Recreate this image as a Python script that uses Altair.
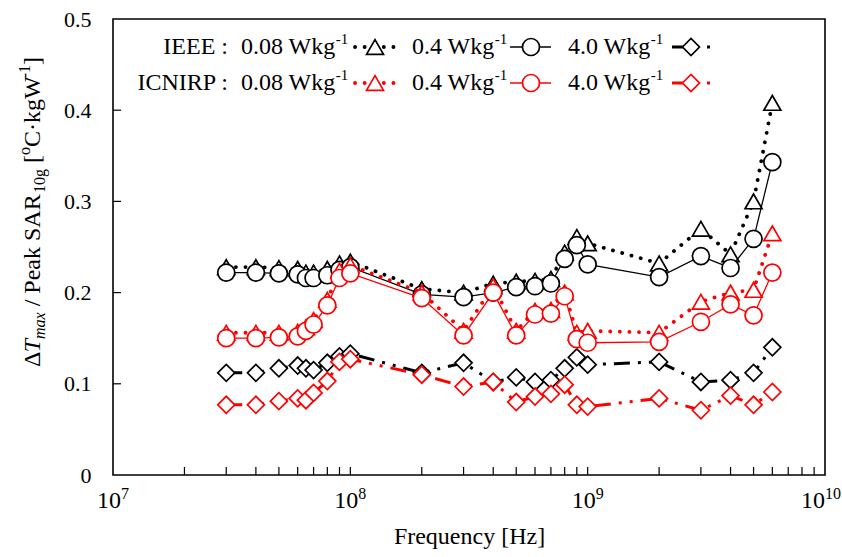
import altair as alt
import pandas as pd

# ---------------- data ----------------
freq_mhz = [30, 40, 50, 60, 65, 70, 80, 90, 100, 200, 300, 400, 500, 600, 700,
            800, 900, 1000, 2000, 3000, 4000, 5000, 6000]

ieee_008 = [.228, .228, .227, .226, .222, .222, .226, .232, .234, .204, .200, .210, .212,
            .213, .215, .244, .261, .254, .232, .270, .242, .300, .408]
ieee_04 = [.222, .222, .221, .220, .216, .216, .219, .225, .228, .198, .195, .200, .206,
           .207, .210, .237, .252, .231, .217, .240, .227, .259, .343]
ieee_40 = [.112, .112, .117, .120, .117, .115, .123, .130, .133, .112, .123, .102, .107,
           .102, .104, .117, .129, .121, .124, .102, .104, .112, .140]
icnirp_008 = [.156, .156, .156, .157, .162, .170, .192, .224, .230, .200, .158, .207, .158,
              .180, .181, .200, .156, .158, .156, .190, .200, .203, .265]
icnirp_04 = [.150, .150, .151, .152, .158, .165, .186, .216, .221, .194, .153, .200, .153,
             .176, .177, .196, .149, .145, .146, .168, .187, .175, .222]
icnirp_40 = [.077, .077, .081, .084, .082, .090, .103, .124, .127, .110, .097, .102, .080,
             .086, .089, .099, .077, .075, .084, .071, .087, .077, .091]

x_major = [1e7, 1e8, 1e9, 1e10]
x_exp = ["7", "8", "9", "10"]
x_minor = [k * 10 ** d for d in (7, 8, 9) for k in range(2, 10)]
y_ticks = [0, 0.1, 0.2, 0.3, 0.4, 0.5]

FONT = "Liberation Serif"
W, H = 712, 456
OX, OY = 113, 19
RED = "#ff0000"

# Times / Liberation Serif advance widths (per em)
WID = {'0': .5, '1': .5, '2': .5, '3': .5, '4': .5, '5': .5, '6': .5, '7': .5, '8': .5, '9': .5,
       '.': .25, ' ': .25, 'W': .944, 'k': .5, 'g': .5, '-': .333, 'Δ': .612, 'T': .556,
       'm': .722, 'a': .5, 'x': .444, '/': .278, 'P': .556, 'e': .444, 'S': .556, 'A': .722,
       'R': .667, '[': .333, ']': .333, 'o': .5, 'C': .667, '·': .25}


def tw(s, size):
    return sum(WID.get(c, .5) for c in s) * size


freq_hz = [f * 1e6 for f in freq_mhz]
XSCALE = alt.Scale(type="log", domain=[1e7, 1e10], nice=False)
YSCALE = alt.Scale(domain=[0, 0.5], nice=False, zero=True)

xs = alt.X("f:Q", scale=XSCALE,
           axis=alt.Axis(values=x_major, labels=False, ticks=False, domain=False, grid=False,
                         title="Frequency [Hz]", titleFont=FONT, titleFontSize=24,
                         titleFontWeight="normal", titleColor="black",
                         titleX=356, titleY=68, titleBaseline="alphabetic"))
ys = alt.Y("v:Q", scale=YSCALE,
           axis=alt.Axis(values=y_ticks,
                         labelExpr="datum.value==0?'0':format(datum.value,'.1f')",
                         ticks=False, tickSize=0, domain=False, grid=False,
                         labelFont=FONT, labelFontSize=22, labelColor="black",
                         labelPadding=22, labelFlush=False, labelOverlap=False,
                         title=None))

dotted = dict(strokeWidth=3.8, strokeDash=[0.1, 9.5], strokeCap="round")
solid = dict(strokeWidth=1.3)
dashdot = dict(strokeWidth=3, strokeDash=[16, 8, 3, 8, 3, 8])
MSIZE = 289


def series(vals, color, shape, style):
    df = pd.DataFrame({"f": freq_hz, "v": vals})
    line = alt.Chart(df).mark_line(color=color, **style).encode(x=xs, y=ys)
    pts = alt.Chart(df).mark_point(shape=shape, size=MSIZE, fill="white", fillOpacity=1,
                                   stroke=color, strokeWidth=1.7, opacity=1).encode(x=xs, y=ys)
    return [line, pts]


layers = []
layers += series(ieee_008, "black", "triangle-up", dotted)
layers += series(ieee_04, "black", "circle", solid)
layers += series(ieee_40, "black", "diamond", dashdot)
layers += series(icnirp_008, RED, "triangle-up", dotted)
layers += series(icnirp_04, RED, "circle", solid)
layers += series(icnirp_40, RED, "diamond", dashdot)

# inward ticks
xt = pd.DataFrame({"f": x_major[1:-1] + x_minor})
xtick = alt.Chart(xt).mark_rule(color="black", strokeWidth=1.2).encode(
    x=alt.X("f:Q", scale=XSCALE), y=alt.value(H), y2=alt.value(H - 8))
yt = pd.DataFrame({"v": y_ticks[1:-1]})
ytick = alt.Chart(yt).mark_rule(color="black", strokeWidth=1.2).encode(
    y=alt.Y("v:Q", scale=YSCALE), x=alt.value(0), x2=alt.value(8))

# x tick labels: 10 with superscript exponent
LM, LS = 24, 16
xl = pd.DataFrame({"f": x_major, "m": ["10"] * 4, "e": x_exp})
for grp, off in ((xl[xl.e.str.len() == 1], 8), (xl[xl.e.str.len() == 2], 0)):
    layers.append(alt.Chart(grp).mark_text(font=FONT, fontSize=LM, color="black", align="right",
                                           baseline="alphabetic", dx=off).encode(
        x=alt.X("f:Q", scale=XSCALE), y=alt.value(H + 33), text="m:N"))
    layers.append(alt.Chart(grp).mark_text(font=FONT, fontSize=LS, color="black", align="left",
                                           baseline="alphabetic", dx=off).encode(
        x=alt.X("f:Q", scale=XSCALE), y=alt.value(H + 24), text="e:N"))

# y title built from pieces (rotated)
TM, TS = 24, 16
pieces = [("Δ", TM, "normal", 0), ("T", TM, "italic", 0), ("max", TS, "italic", 5),
          (" / Peak SAR", TM, "normal", 0), ("10g", TS, "normal", 5), (" [", TM, "normal", 0),
          ("o", TS, "normal", -10), ("C·kgW", TM, "normal", 0), ("-1", TS, "normal", -10),
          ("]", TM, "normal", 0)]
total = sum(tw(p[0], p[1]) for p in pieces)
cum = 212 + total / 2 - OY
for txt, sz, sty, dy in pieces:
    lead = len(txt) - len(txt.lstrip(" "))
    start = cum - tw(" " * lead, sz)
    d = pd.DataFrame({"px": [40 - OX], "py": [start], "t": [txt.strip()]})
    layers.append(alt.Chart(d).mark_text(font=FONT, fontSize=sz, fontStyle=sty, color="black",
                                         angle=270, align="left", baseline="alphabetic",
                                         dy=dy).encode(
        x=alt.X("px:Q", scale=None), y=alt.Y("py:Q", scale=None), text="t:N"))
    cum -= tw(txt, sz)

# ---------------- legend (annotation) ----------------
LF, LSUP = 24, 15
rows = [("IEEE :", "black", 47), ("ICNIRP :", RED, 83)]
leg_labels = ["0.08 Wkg", "0.4 Wkg", "4.0 Wkg"]
label_x = [241, 412, 568]
sample_x = [(355, 395, 375), (510, 551, 531), (672, 710, 691)]
shapes = ["triangle-up", "circle", "diamond"]
styles = [dotted, solid, dashdot]

for name, col, yy in rows:
    d = pd.DataFrame({"px": [228 - OX], "py": [yy - OY], "t": [name]})
    layers.append(alt.Chart(d).mark_text(font=FONT, fontSize=LF, color="black", align="right",
                                         baseline="middle").encode(
        x=alt.X("px:Q", scale=None), y=alt.Y("py:Q", scale=None), text="t:N"))
    main = pd.DataFrame({"px": [lx - OX for lx in label_x], "py": [yy - OY] * 3, "t": leg_labels})
    layers.append(alt.Chart(main).mark_text(font=FONT, fontSize=LF, color="black", align="left",
                                            baseline="middle").encode(
        x=alt.X("px:Q", scale=None), y=alt.Y("py:Q", scale=None), text="t:N"))
    sup = pd.DataFrame({"px": [lx - OX + tw(t, LF) for lx, t in zip(label_x, leg_labels)],
                        "py": [yy - OY - 8] * 3, "t": ["-1"] * 3})
    layers.append(alt.Chart(sup).mark_text(font=FONT, fontSize=LSUP, color="black", align="left",
                                           baseline="middle").encode(
        x=alt.X("px:Q", scale=None), y=alt.Y("py:Q", scale=None), text="t:N"))
    for (x0, x1, xm), shp, st in zip(sample_x, shapes, styles):
        seg = pd.DataFrame({"px": [x0 - OX], "px2": [x1 - OX], "py": [yy - OY]})
        layers.append(alt.Chart(seg).mark_rule(color=col, **st).encode(
            x=alt.X("px:Q", scale=None), x2="px2:Q", y=alt.Y("py:Q", scale=None)))
        mk = pd.DataFrame({"px": [xm - OX], "py": [yy - OY]})
        layers.append(alt.Chart(mk).mark_point(shape=shp, size=MSIZE, fill="white", fillOpacity=1,
                                               stroke=col, strokeWidth=1.7, opacity=1).encode(
            x=alt.X("px:Q", scale=None), y=alt.Y("py:Q", scale=None)))

chart = alt.layer(xtick, ytick, *layers).properties(
    width=W, height=H,
    autosize=alt.AutoSizeParams(type="none"),
    padding={"left": OX, "top": OY, "right": 842 - OX - W, "bottom": 557 - OY - H},
    background="white",
).configure_view(stroke="black", strokeWidth=1.6).configure_axis(grid=False)

chart.save("out.html", embed_options={"renderer": "svg", "actions": False})
